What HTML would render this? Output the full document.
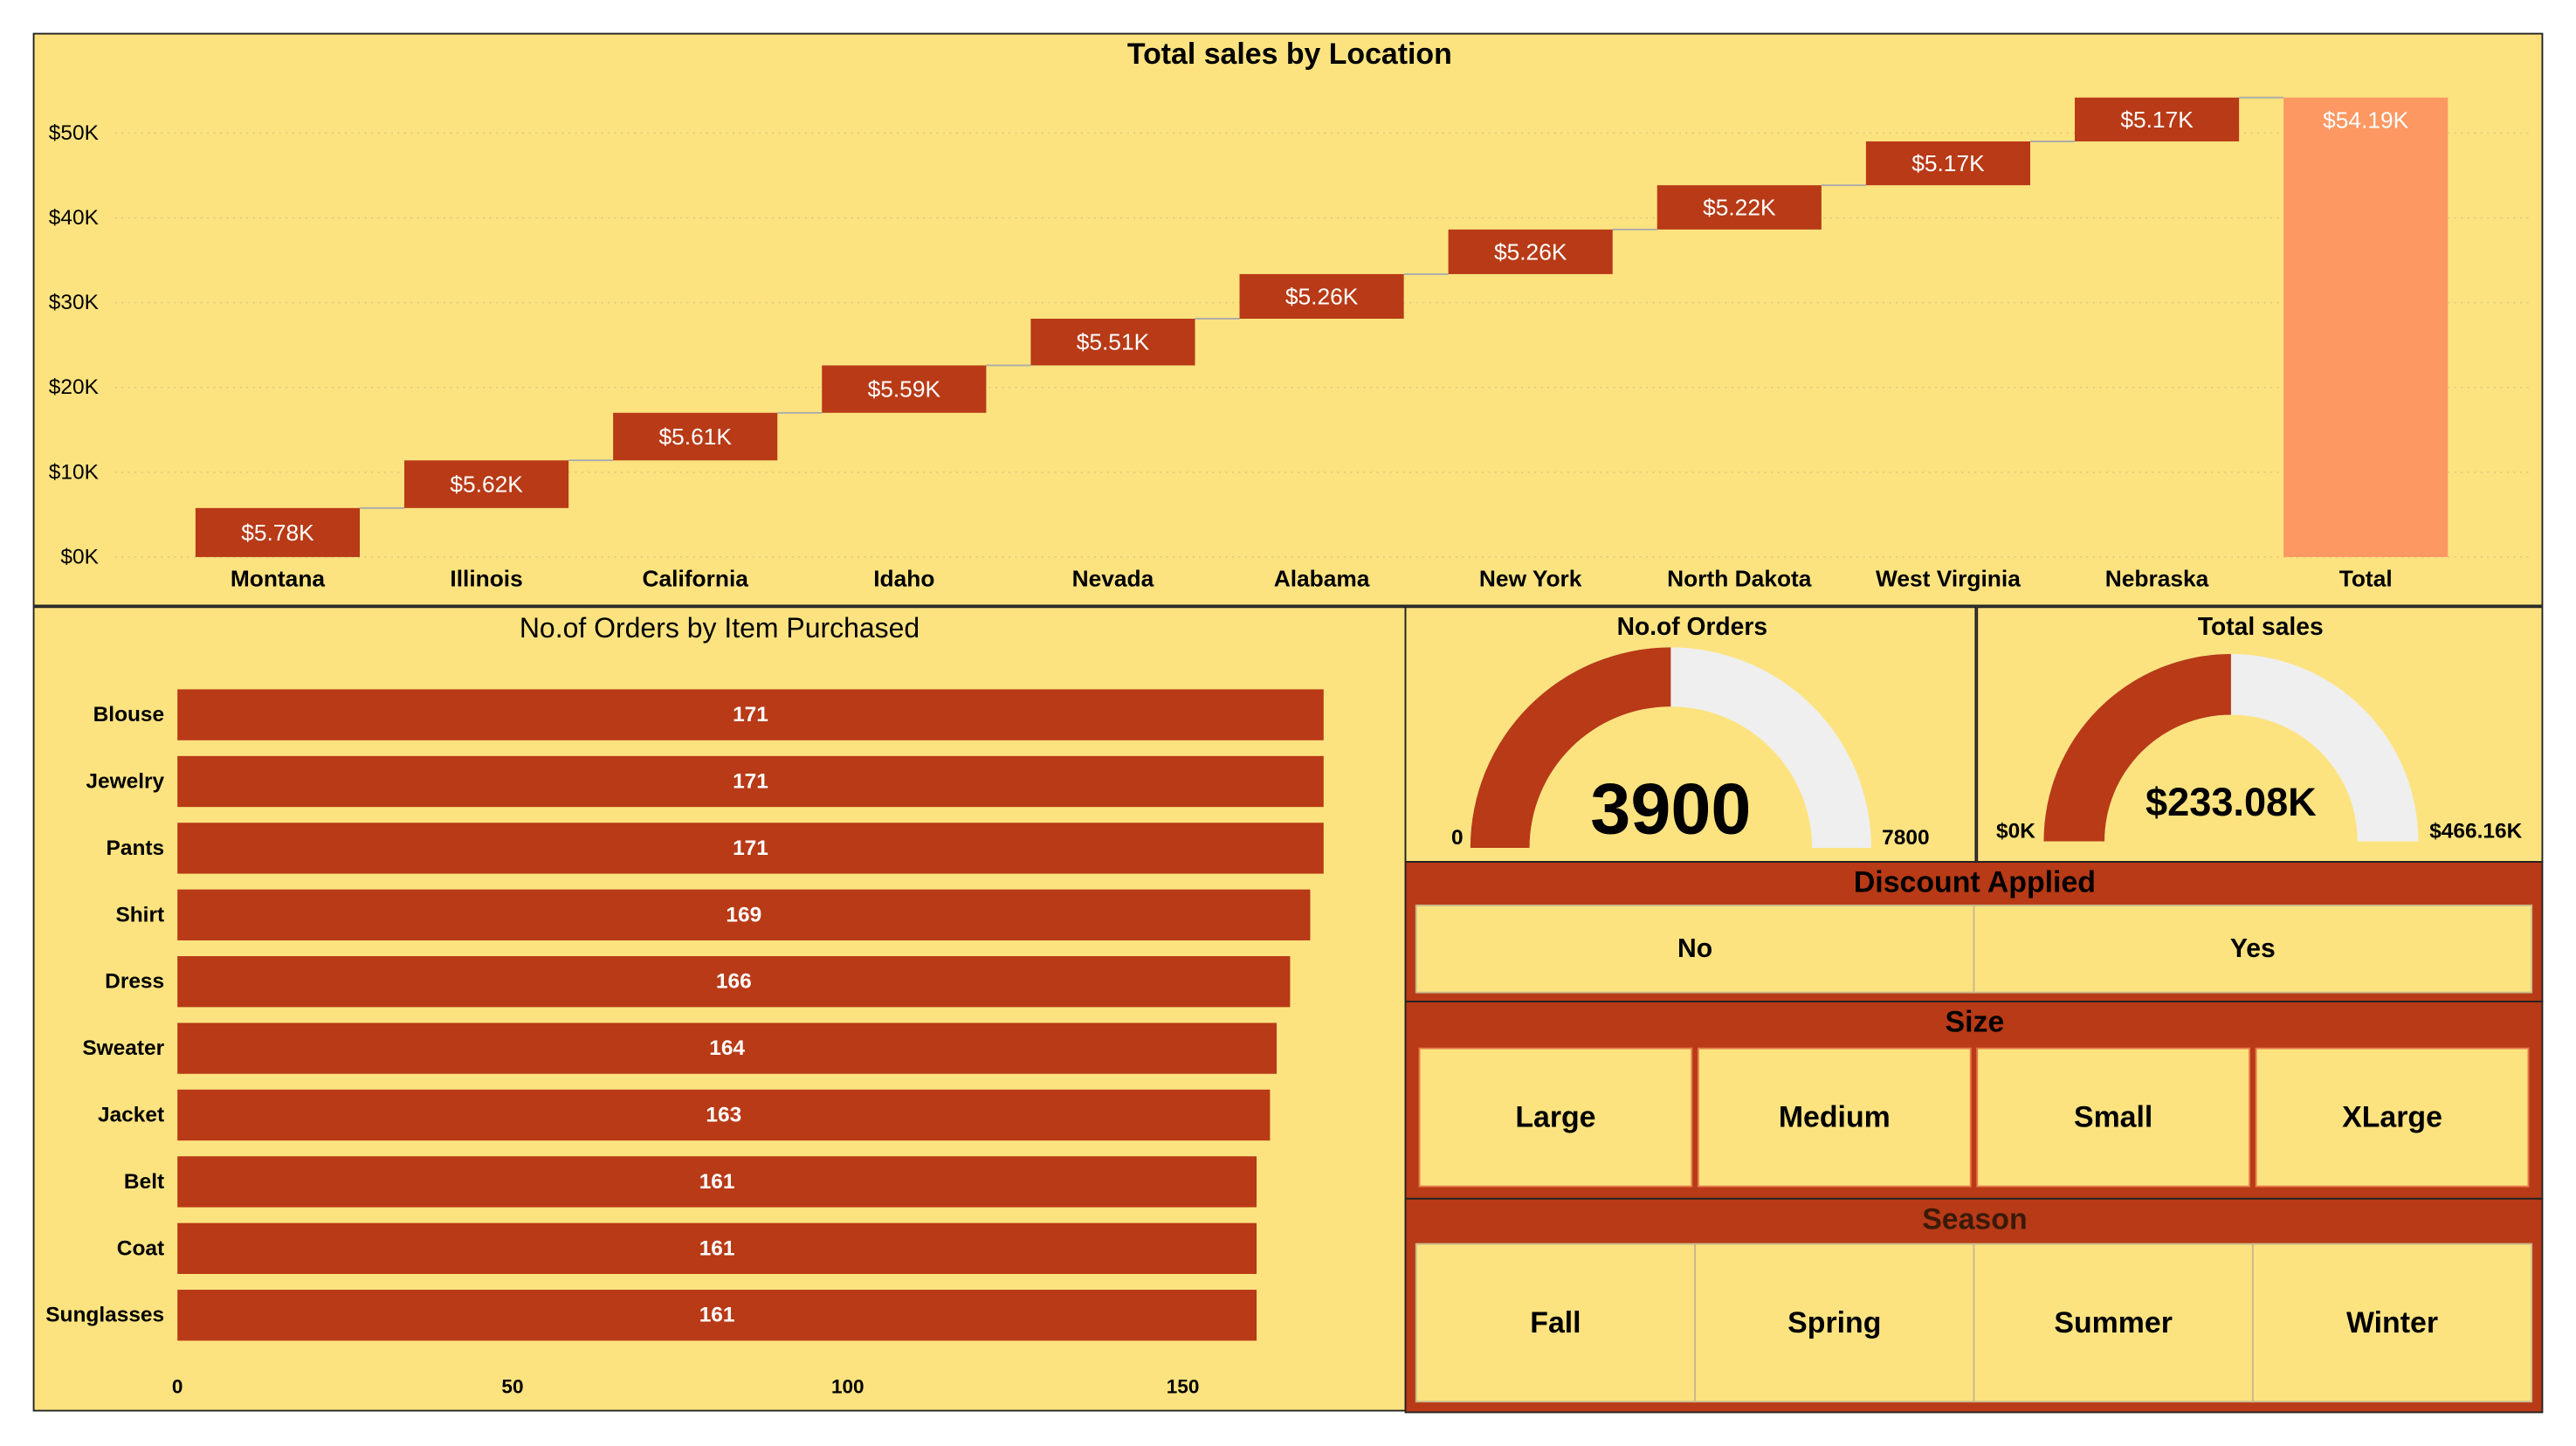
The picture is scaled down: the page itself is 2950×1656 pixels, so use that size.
<!DOCTYPE html>
<html><head><meta charset="utf-8"><style>
html,body{margin:0;padding:0;background:#fff;}
svg{display:block;font-family:"Liberation Sans",sans-serif;}
</style></head><body>
<svg id="s" width="2950" height="1656" viewBox="0 0 1568 880" preserveAspectRatio="none" xmlns="http://www.w3.org/2000/svg"></svg>
<script>
const locations=["Montana","Illinois","California","Idaho","Nevada","Alabama","New York","North Dakota","West Virginia","Nebraska"];
const locationSales=[5.78,5.62,5.61,5.59,5.51,5.26,5.26,5.22,5.17,5.17];
const yTicks=[0,10,20,30,40,50];
const items=["Blouse","Jewelry","Pants","Shirt","Dress","Sweater","Jacket","Belt","Coat","Sunglasses"];
const itemOrders=[171,171,171,169,166,164,163,161,161,161];
const xTicks=[0,50,100,150];
const ordersValue=3900, ordersMax=7800;
const salesValue=233.08, salesMax=466.16;

const RED="#b83a16",YEL="#fce380",S=document.getElementById('s'),NS="http://www.w3.org/2000/svg";
function el(t,a,txt){const e=document.createElementNS(NS,t);for(const k in a)e.setAttribute(k,a[k]);if(txt!==undefined)e.textContent=txt;S.appendChild(e);return e;}
function tx(x,y,s,opt,name){const e=el('text',Object.assign({x:x,y:y,'font-size':opt.fs||13,'text-anchor':opt.a||'middle','dominant-baseline':'central',fill:opt.c||'#000','font-weight':opt.w||'normal'}),s);

return e;}

// Panels
let p=el('rect',{x:20.5,y:20.5,width:1527,height:348,fill:YEL,stroke:'#222'});

p=el('rect',{x:20.5,y:369.5,width:835,height:489,fill:YEL,stroke:'#222'});

p=el('rect',{x:855.5,y:369.5,width:347,height:155,fill:YEL,stroke:'#222'});

p=el('rect',{x:1203.5,y:369.5,width:344,height:155,fill:YEL,stroke:'#222'});


// Waterfall
tx(785,33,"Total sales by Location",{fs:18,w:'bold'},'location-chart-title');
const yS=v=>339-v*5.16;
yTicks.forEach(t=>{el('line',{x1:70,x2:1540,y1:yS(t),y2:yS(t),stroke:'#d9c77a','stroke-dasharray':'1 3','stroke-width':0.8});
tx(60,yS(t),"$"+t+"K",{fs:13,a:'end'},'y-tick-label');});
let cum=0;const xC=i=>169+i*127.1;
locationSales.forEach((v,i)=>{const y0=yS(cum),y1=yS(cum+v);
const r=el('rect',{x:xC(i)-50,y:y1,width:100,height:y0-y1,fill:RED});

el('line',{x1:xC(i)+50,x2:xC(i+1)-50,y1:y1,y2:y1,stroke:'#aaa','stroke-width':1});
tx(xC(i),(y0+y1)/2,"$"+v.toFixed(2)+"K",{fs:14,c:'#fff'},'bar-value-label');
tx(xC(i),352,locations[i],{fs:14,w:'bold'},'x-category-label');cum+=v;});
const tot=locationSales.reduce((a,b)=>a+b,0),ti=locationSales.length;
let r=el('rect',{x:xC(ti)-50,y:yS(tot),width:100,height:yS(0)-yS(tot),fill:'#fd9862'});

tx(xC(ti),73,"$"+tot.toFixed(2)+"K",{fs:14,c:'#fff'},'total-value-label');
tx(xC(ti),352,"Total",{fs:14,w:'bold'},'x-category-label');

// Horizontal bars
tx(438,382,"No.of Orders by Item Purchased",{fs:17},'items-chart-title');
const xS=v=>108+v*4.08;
items.forEach((n,i)=>{const cy=435+i*40.6;
const b=el('rect',{x:xS(0),y:cy-15.5,width:xS(itemOrders[i])-xS(0),height:31,fill:RED});

tx((xS(0)+xS(itemOrders[i]))/2,cy,String(itemOrders[i]),{fs:13,c:'#fff',w:'bold'},'item-bar-value');
tx(100,cy,n,{fs:13,a:'end',w:'bold'},'item-label');});
xTicks.forEach(t=>tx(xS(t),844,String(t),{fs:12,w:'bold'},'x-tick-label'));

// Gauges
function gauge(cx,cy,ro,ri,val,max,title,tcx,vs,vfs,vy,l0,l1,ly,lx0,lx1,name){
tx(tcx,381,title,{fs:15,w:'bold'},name+'-title');
const pt=(r,a)=>[cx-r*Math.cos(a),cy-r*Math.sin(a)];
function arc(a0,a1,f){const [x0,y0]=pt(ro,a0),[x1,y1]=pt(ro,a1),[x2,y2]=pt(ri,a1),[x3,y3]=pt(ri,a0);
const g=el('path',{d:`M${x0},${y0}A${ro},${ro} 0 0 1 ${x1},${y1}L${x2},${y2}A${ri},${ri} 0 0 0 ${x3},${y3}Z`,fill:f});
}
const a=Math.PI*val/max;arc(0,Math.PI,'#efefef');arc(0,a,RED);
tx(cx,vy,vs,{fs:vfs,w:'bold'},name+'-value');
tx(lx0,ly,l0,{fs:13,w:'bold'},name+'-min');tx(lx1,ly,l1,{fs:13,w:'bold'},name+'-max');}
gauge(1017,516,122,86,ordersValue,ordersMax,"No.of Orders",1030,String(ordersValue),44,492,"0",String(ordersMax),510,887,1160,'orders-gauge');
gauge(1358,512,114,77,salesValue,salesMax,"Total sales",1376,"$"+salesValue.toFixed(2)+"K",24,488,"$0K","$"+salesMax.toFixed(2)+"K",506,1227,1507,'sales-gauge');

// Slicers
function slicer(y,h,title,ty,by,bh,opts,gap,name,fs){
const bg=el('rect',{x:855.5,y:y+0.5,width:692,height:h,fill:RED,stroke:'#222'});

tx(1202,ty,title,{fs:18,w:'bold',c:name==='season'?'#3a1a0a':'#000'},name+'-title');
const x0=862,x1=1541,w=(x1-x0)/opts.length;
opts.forEach((o,i)=>{const bx=x0+i*w+gap/2;
const b=el('rect',{x:bx,y:by,width:w-gap,height:bh,fill:YEL,stroke:gap?'#e87a4a':'#c8b98a','stroke-width':1});

tx(bx+(w-gap)/2,by+bh/2,o,{fs:fs,w:'bold'},name+'-option-label');});}
slicer(524,85,"Discount Applied",537,551,53,["No","Yes"],0,'discount',16);
slicer(609,120,"Size",622,638,84,["Large","Medium","Small","XLarge"],4,'size',18);
slicer(729,130,"Season",742,757,96,["Fall","Spring","Summer","Winter"],0,'season',18);
</script>
</body></html>
